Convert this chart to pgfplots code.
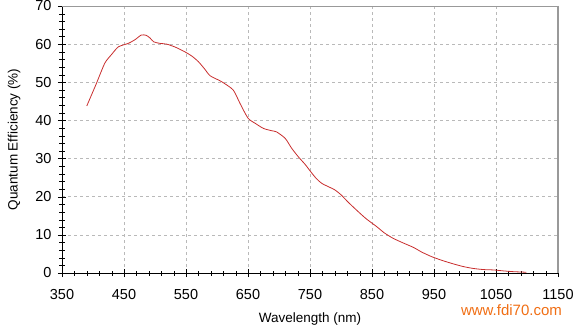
\documentclass[border=0pt]{standalone}
\usepackage{pgfplots}
\pgfplotsset{compat=1.18}
\usepackage{fontspec}
\setmainfont{Liberation Sans}
\definecolor{curve}{RGB}{200,45,45}
\definecolor{wm}{RGB}{240,110,20}
\begin{document}
\begin{tikzpicture}[x=1pt,y=1pt]
\begin{axis}[
  at={(0,0)}, anchor=south west,
  scale only axis, width=496pt, height=267pt,
  xmin=350, xmax=1150, ymin=0, ymax=70,
  xtick={350,450,...,1150}, ytick={0,10,...,70},
  minor x tick num=4, minor y tick num=4,
  axis lines=left, axis line style={-,black},
  tick align=center, major tick length=8pt, minor tick length=5pt,
  tick style={black},
  grid=major, major grid style={dashed, gray!55, line width=0.5pt},
  every tick label/.append style={font=\fontsize{14.5}{16}\selectfont},
  /pgf/number format/assume math mode=true,
  /pgf/number format/1000 sep={},
  xticklabel style={yshift=-9pt},
  yticklabel style={xshift=-3pt},
  xlabel={Wavelength (nm)}, ylabel={Quantum Efficiency (\%)},
  label style={font=\fontsize{13.5}{15}\selectfont},
  xlabel style={yshift=-6pt},
  ylabel style={yshift=8pt},
  clip=false,
]
\draw[gray!80, line width=0.8pt] (rel axis cs:0,1) -- (rel axis cs:1,1);
\draw[gray!80, line width=1.6pt] (rel axis cs:1,1) -- (rel axis cs:1,0);
\addplot[curve, line width=0.8pt, smooth, tension=0.4] coordinates {
(390,43.8) (405,49.5) (419,55.0) (430,57.3) (441,59.3) (457,60.2) (468,61.2)
(478,62.4) (486,62.3) (492,61.6) (498,60.6) (508,60.2) (519,60.0) (533,59.2)
(548,58.0) (560,56.8) (570,55.4) (580,53.5) (589,51.7) (607,50.2) (626,48.0)
(637,44.5) (650,40.6) (662,39.2) (675,37.9) (688,37.3) (696,37.0) (710,35.3)
(720,32.8) (731,30.5) (742,28.5) (750,26.8) (760,24.8) (769,23.5) (780,22.6)
(790,21.8) (800,20.5) (812,18.5) (825,16.5) (840,14.3) (858,12.1) (870,10.5)
(884,9.1) (900,7.9) (917,6.7) (930,5.5) (946,4.3) (963,3.3) (981,2.4)
(997,1.7) (1013,1.2) (1030,0.9) (1046,0.8) (1062,0.55) (1078,0.35) (1099,0.2)
};
\node[text=wm, font=\fontsize{15}{17}\selectfont, anchor=north east] at (rel axis cs:1.015,-0.105) {www.fdi70.com};
\end{axis}
\pgfresetboundingbox
\path (-62,-56) rectangle (515,273);
\end{tikzpicture}
\end{document}
